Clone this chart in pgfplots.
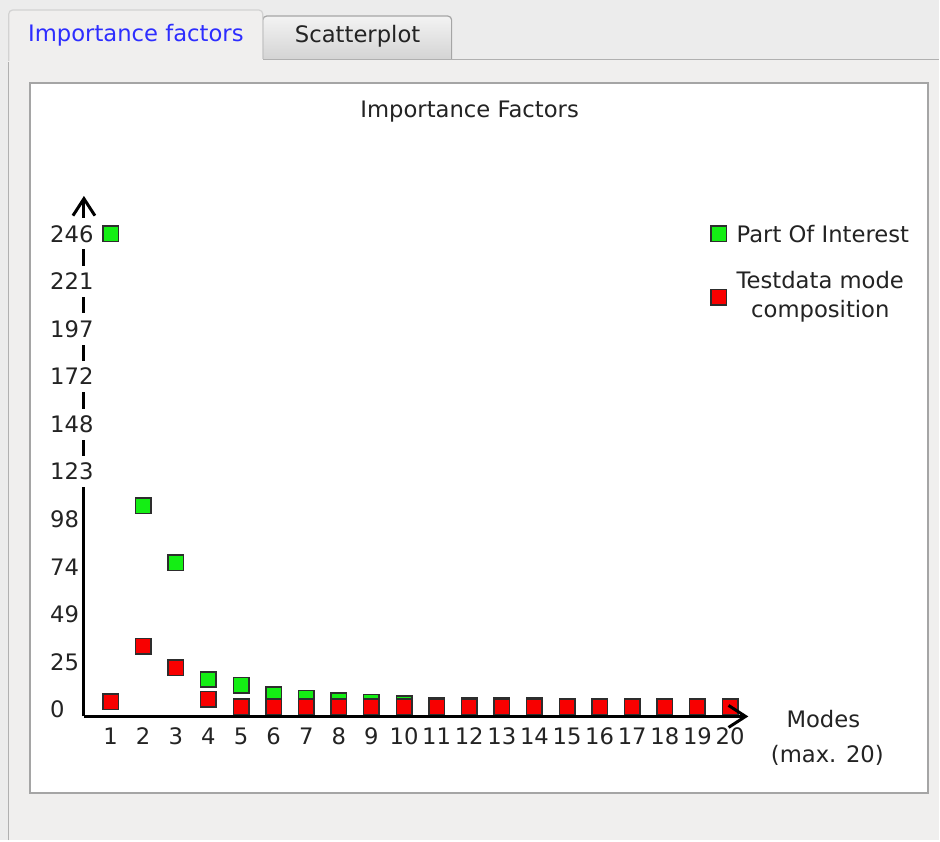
\documentclass[border=0pt]{standalone}
\usepackage{pgfplots}
\pgfplotsset{compat=1.18}
\usepackage{pgfplotstable}
\usepackage{fontspec}
\setmainfont{DejaVu Sans}
\usetikzlibrary{arrows.meta}
\definecolor{bgtop}{RGB}{236,236,236}
\definecolor{panel}{RGB}{240,239,238}
\definecolor{panelborder}{RGB}{176,176,176}
\definecolor{tabborder}{RGB}{210,210,210}
\definecolor{whiteborder}{RGB}{165,165,165}
\definecolor{tabblue}{RGB}{45,45,255}
\definecolor{txt}{RGB}{35,35,35}
\definecolor{mgreen}{RGB}{20,238,20}
\definecolor{mred}{RGB}{248,0,0}
\definecolor{medge}{RGB}{45,45,45}
\definecolor{tabtop}{RGB}{243,243,243}
\definecolor{tabbot}{RGB}{212,212,212}
\definecolor{scborder}{RGB}{165,165,165}

\pgfplotstableread{
x g r
1 246 4.1
2 105.4 32.6
3 76 21.7
4 15.5 5.2
5 12.4 1.5
6 7.5 1.5
7 5.8 1.5
8 4.6 1.5
9 3.7 1.5
10 2.9 1.5
11 2.0 1.5
12 2.0 1.5
13 2.0 1.5
14 2.0 1.5
15 1.5 1.5
16 1.5 1.5
17 1.5 1.5
18 1.5 1.5
19 1.5 1.5
20 1.5 1.5
}\modedata

\pgfplotsset{
  layers/mylayers/.define layer set={
    axis background,axis grid,axis ticks,pre main,main,axis lines,axis tick labels,axis descriptions,axis foreground
  }{
    grid style={/pgfplots/on layer=axis grid},
    tick style={/pgfplots/on layer=axis ticks},
    axis line style={/pgfplots/on layer=axis lines},
    label style={/pgfplots/on layer=axis descriptions},
    legend style={/pgfplots/on layer=axis descriptions},
    title style={/pgfplots/on layer=axis descriptions},
    tick label style={/pgfplots/on layer=axis tick labels},
  },
}

\begin{document}
\begin{tikzpicture}[x=1pt,y=1pt,every node/.style={font=\fontsize{22.7}{28.5}\selectfont}]
\fill[bgtop] (0,0) rectangle (940,841);
% panel
\fill[panel] (8,0) rectangle (940,781);
\draw[panelborder,line width=1.5pt] (8.75,0) -- (8.75,780);
\draw[panelborder,line width=1.5pt] (263,781.25) -- (940,781.25);
% scatterplot tab
\shade[top color=tabtop,bottom color=tabbot] (263,782) -- (263,821) arc[start angle=180,end angle=90,radius=4] -- (448,825) arc[start angle=90,end angle=0,radius=4] -- (452,782) -- cycle;
\draw[scborder,line width=1.2pt] (263,782) -- (263,821) arc[start angle=180,end angle=90,radius=4] -- (448,825) arc[start angle=90,end angle=0,radius=4] -- (452,782);
% active tab
\fill[panel] (8,779) -- (8,827) arc[start angle=180,end angle=90,radius=4] -- (259,831) arc[start angle=90,end angle=0,radius=4] -- (263,779) -- cycle;
\draw[tabborder,line width=1.2pt] (8.75,780) -- (8.75,827) arc[start angle=180,end angle=90,radius=4] -- (259,831) arc[start angle=90,end angle=0,radius=4] -- (263,782);
% white plot area
\fill[white] (30,47) rectangle (929,758);
\draw[whiteborder,line width=2pt] (30,47) rectangle (929,758);
% tab texts
\node[anchor=base west,inner sep=0pt,text=tabblue] at (28,799) {Importance factors};
\node[anchor=base west,inner sep=0pt,text=txt] at (295,798) {Scatterplot};
% title
\node[anchor=base,inner sep=0pt,text=txt] at (470,723) {Importance Factors};
% x axis label
\node[anchor=base,inner sep=0pt,text=txt] at (824,113) {Modes};
\node[anchor=base,inner sep=0pt,text=txt] at (828,78) {(max. 20)};

\begin{axis}[
  set layers=mylayers,
  at={(84pt,124pt)}, anchor=south west,
  scale only axis, width=664.9pt, height=520.9pt,
  xmin=0.182, xmax=20.56, ymin=-3.6, ymax=265.6,
  axis lines=left,
  axis line style={line width=3pt, black, -{Straight Barb[length=17pt,width=22pt]}},
  major tick length=0pt,
  xtick={1,...,20},
  ytick={0,24.6,49.2,73.8,98.4,123,147.6,172.2,196.8,221.4,246},
  yticklabels={0,25,49,74,98,123,148,172,197,221,246},
  /pgf/number format/assume math mode=true,
  tick label style={font=\fontsize{22.7}{28.5}\selectfont, text=txt},
  yticklabel style={anchor=west, xshift=-34pt, fill=white, inner xsep=0pt, inner ysep=7pt},
  xticklabel style={inner sep=0pt, yshift=-11.5pt},
  clip=false,
  legend style={at={(0.9441,0.9440)}, anchor=north west, draw=none, fill=none,
    inner sep=0pt, outer sep=0pt, font=\fontsize{22.7}{28.5}\selectfont, text=txt,
    row sep=26pt, column sep=10pt, nodes={inner sep=0pt, text depth=}},
  legend cell align=left,
  legend image code/.code={\draw[#1] plot coordinates {(0pt,0pt)};},
]
\addplot[only marks, mark=square*, mark size=7.75pt, mark options={fill=mgreen, draw=medge, line width=1.5pt, solid}] table[x=x,y=g]{\modedata};
\addlegendentry{Part Of Interest}
\addplot[only marks, mark=square*, mark size=7.75pt, mark options={fill=mred, draw=medge, line width=1.5pt, solid}] table[x=x,y=r]{\modedata};
\addlegendentry{\begin{tabular}{@{}c@{}}Testdata mode\\composition\end{tabular}}
\end{axis}
\end{tikzpicture}
\end{document}
